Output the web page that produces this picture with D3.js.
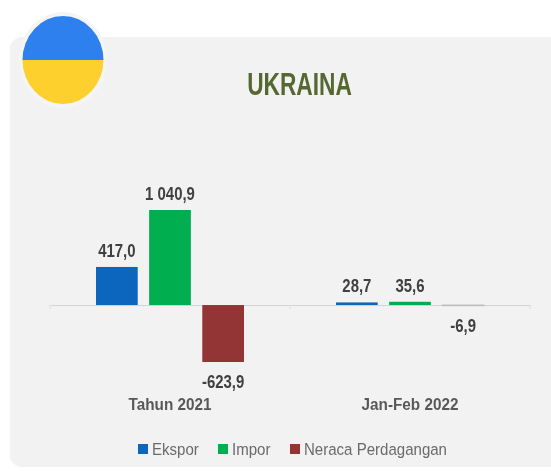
<!DOCTYPE html>
<html>
<head>
<meta charset="utf-8">
<script src="https://cdn.jsdelivr.net/npm/d3@7"></script>
<style>
  html, body { margin: 0; padding: 0; background: #fff; }
  text { font-family: "Liberation Sans", sans-serif; }
</style>
</head>
<body>
<div id="chart"></div>
<script>
const periods = ["Tahun 2021", "Jan-Feb 2022"];
const seriesNames = ["Ekspor", "Impor", "Neraca Perdagangan"];
const seriesColors = ["#0b66bd", "#00ae4f", "#933634"];
const ekspor = [417.0, 28.7];
const impor = [1040.9, 35.6];
const neraca = [-623.9, -6.9];
const valueLabels = [["417,0", "28,7"], ["1 040,9", "35,6"], ["-623,9", "-6,9"]];

const width = 551, height = 471;
const svg = d3.select("#chart").append("svg")
    .attr("width", width)
    .attr("height", height)
    .style("display", "block");

const defs = svg.append("defs");
defs.append("filter").attr("id", "soft")
    .append("feGaussianBlur").attr("stdDeviation", 0.55);
defs.append("clipPath").attr("id", "flag")
    .append("ellipse").attr("cx", 63).attr("cy", 60).attr("rx", 40.5).attr("ry", 44);

const root = svg.append("g").attr("filter", "url(#soft)");

// the source text is a condensed face, squeeze it horizontally
const squeeze = (x, y, sx) => `translate(${x},${y}) scale(${sx},1)`;

// Panel
root.append("rect")
    .attr("x", 10).attr("y", 37)
    .attr("width", 560).attr("height", 430)
    .attr("rx", 12)
    .attr("fill", "#f2f2f2");

// Flag
root.append("ellipse").attr("cx", 63).attr("cy", 60).attr("rx", 44).attr("ry", 48).attr("fill", "#f5f5f5");
const flag = root.append("g").attr("clip-path", "url(#flag)");
flag.append("rect").attr("x", 20).attr("y", 14).attr("width", 90).attr("height", 46).attr("fill", "#2e80ee");
flag.append("rect").attr("x", 20).attr("y", 60).attr("width", 90).attr("height", 46).attr("fill", "#fed02f");

// Title
root.append("text")
    .attr("transform", squeeze(299.5, 95, 0.71))
    .attr("text-anchor", "middle")
    .attr("font-size", 32)
    .attr("font-weight", 700)
    .attr("fill", "#566731")
    .text("UKRAINA");

// Scales
const x0 = d3.scaleBand().domain(periods).range([50, 530]);
const x1 = d3.scaleBand().domain(seriesNames).range([0, 148]).paddingInner(0.215);
const y = d3.scaleLinear().domain([-623.9, 1040.9]).range([362, 210]);
const groupOffset = (x0.bandwidth() - 148) / 2;
const seriesValues = [ekspor, impor, neraca];

// Axis, drawn under the bars
const axis = root.append("g")
    .attr("transform", `translate(0,${y(0)})`)
    .call(d3.axisBottom(x0).tickSize(0).tickFormat(""));
axis.select(".domain").attr("stroke", "#d4d4d4").attr("stroke-width", 1);
axis.selectAll(".edge")
    .data([x0(periods[0]), x0(periods[1]), x0(periods[1]) + x0.bandwidth()])
    .enter()
    .append("line")
    .attr("class", "edge")
    .attr("x1", d => d)
    .attr("x2", d => d)
    .attr("y2", 4)
    .attr("stroke", "#dedede");

// Bars
seriesNames.forEach((name, s) => {
    const rows = periods.map((p, i) => ({ period: p, value: seriesValues[s][i], label: valueLabels[s][i] }));
    const layer = root.append("g");
    layer.selectAll("rect")
        .data(rows)
        .enter()
        .append("rect")
        .attr("x", d => x0(d.period) + groupOffset + x1(name))
        .attr("y", d => d.value > 0 ? y(d.value) : y(0))
        .attr("width", x1.bandwidth())
        .attr("height", d => Math.abs(y(d.value) - y(0)))
        .attr("fill", d => Math.abs(d.value) < 10 ? "#bdbdbd" : seriesColors[s])
        .attr("stroke", d => Math.abs(d.value) < 10 ? "#bdbdbd" : "none")
        .attr("stroke-width", 1);
    layer.selectAll("text")
        .data(rows)
        .enter()
        .append("text")
        .attr("transform", d => squeeze(
            x0(d.period) + groupOffset + x1(name) + x1.bandwidth() / 2,
            d.value > 0 ? y(d.value) - 10 : y(d.value) + 26,
            0.83))
        .attr("text-anchor", "middle")
        .attr("font-size", 18)
        .attr("font-weight", 700)
        .attr("fill", "#404040")
        .text(d => d.label);
});

// Category labels
root.selectAll(".cat")
    .data(periods)
    .enter()
    .append("text")
    .attr("class", "cat")
    .attr("transform", d => squeeze(x0(d) + x0.bandwidth() / 2, 410, 0.9))
    .attr("text-anchor", "middle")
    .attr("font-size", 17)
    .attr("font-weight", 700)
    .attr("fill", "#595959")
    .text(d => d);

// Legend
const legendX = [138, 218, 290];
const legend = root.selectAll(".legend")
    .data(seriesNames)
    .enter()
    .append("g")
    .attr("class", "legend")
    .attr("transform", (d, i) => `translate(${legendX[i]},449)`);
legend.append("rect")
    .attr("y", -5)
    .attr("width", 10)
    .attr("height", 10)
    .attr("fill", (d, i) => seriesColors[i]);
legend.append("text")
    .attr("transform", squeeze(14, 6, 0.885))
    .attr("font-size", 17)
    .attr("fill", "#6b6b6b")
    .text(d => d);
</script>
</body>
</html>
